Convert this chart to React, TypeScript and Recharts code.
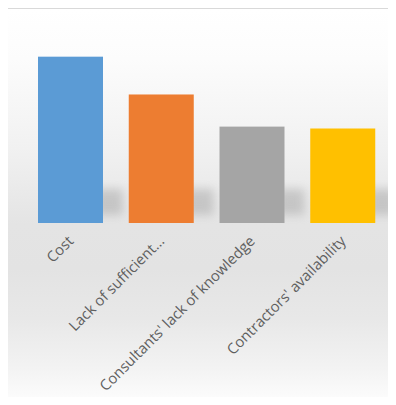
import { Bar, BarChart, Cell, XAxis, YAxis } from "recharts";

const causes = ["Cost", "Lack of sufficient...", "Consultants' lack of knowledge", "Contractors' availability"];
const scores = [88, 68, 51, 50];
const colors = ["#5B9BD5", "#ED7D31", "#A5A5A5", "#FFC000"];

const data = causes.map((name, i) => ({ name, score: scores[i] }));

function SlantTick({ x, y, payload }: any) {
  return (
    <g transform={`translate(${x + 4},${y + 11})`}>
      <text
        x={0}
        y={0}
        textAnchor="end"
        transform="rotate(-45)"
        fill="#5f5f5f"
        fontSize={14.8}
        fontFamily="'Open Sans', sans-serif"
      >
        {payload.value}
      </text>
    </g>
  );
}

function ShadowBar(props: any) {
  const { x, y, width, height, fill } = props;
  const bottom = y + height;
  return (
    <g>
      <rect x={x + width - 8} y={bottom - 34} width={28} height={26} fill="#808080" opacity={0.32} filter="url(#floorBlur)" />
      <rect x={x} y={y} width={width} height={height} fill={fill} />
    </g>
  );
}

export default function App() {
  return (
    <div style={{ margin: -8, width: 396, height: 405, position: "relative", background: "#fff", overflow: "hidden" }}>
      <div
        style={{
          position: "absolute",
          left: 4,
          top: 8,
          width: 400,
          height: 405,
          borderLeft: "1px solid #d9d9d9",
          borderTop: "1px solid #d9d9d9",
          background:
            "linear-gradient(to bottom, #ffffff 0px, #fcfcfc 50px, #f1f1f1 140px, #e4e4e4 215px, #e3e3e3 260px, #e8e8e8 310px, #f3f3f3 360px, #fefefe 397px)",
        }}
      />
      <BarChart
        width={396}
        height={405}
        data={data}
        margin={{ top: 34, right: 8, left: 25, bottom: 0 }}
        style={{ position: "absolute", left: 0, top: 0 }}
      >
        <defs>
          <filter id="floorBlur" x="-50%" y="-50%" width="200%" height="200%">
            <feGaussianBlur stdDeviation="5" />
          </filter>
        </defs>
        <XAxis dataKey="name" axisLine={false} tickLine={false} interval={0} height={182} tick={<SlantTick />} />
        <YAxis hide domain={[0, 100]} />
        <Bar dataKey="score" barSize={65} shape={<ShadowBar />} isAnimationActive={false}>
          {data.map((d, i) => (
            <Cell key={d.name} fill={colors[i]} />
          ))}
        </Bar>
      </BarChart>
    </div>
  );
}
